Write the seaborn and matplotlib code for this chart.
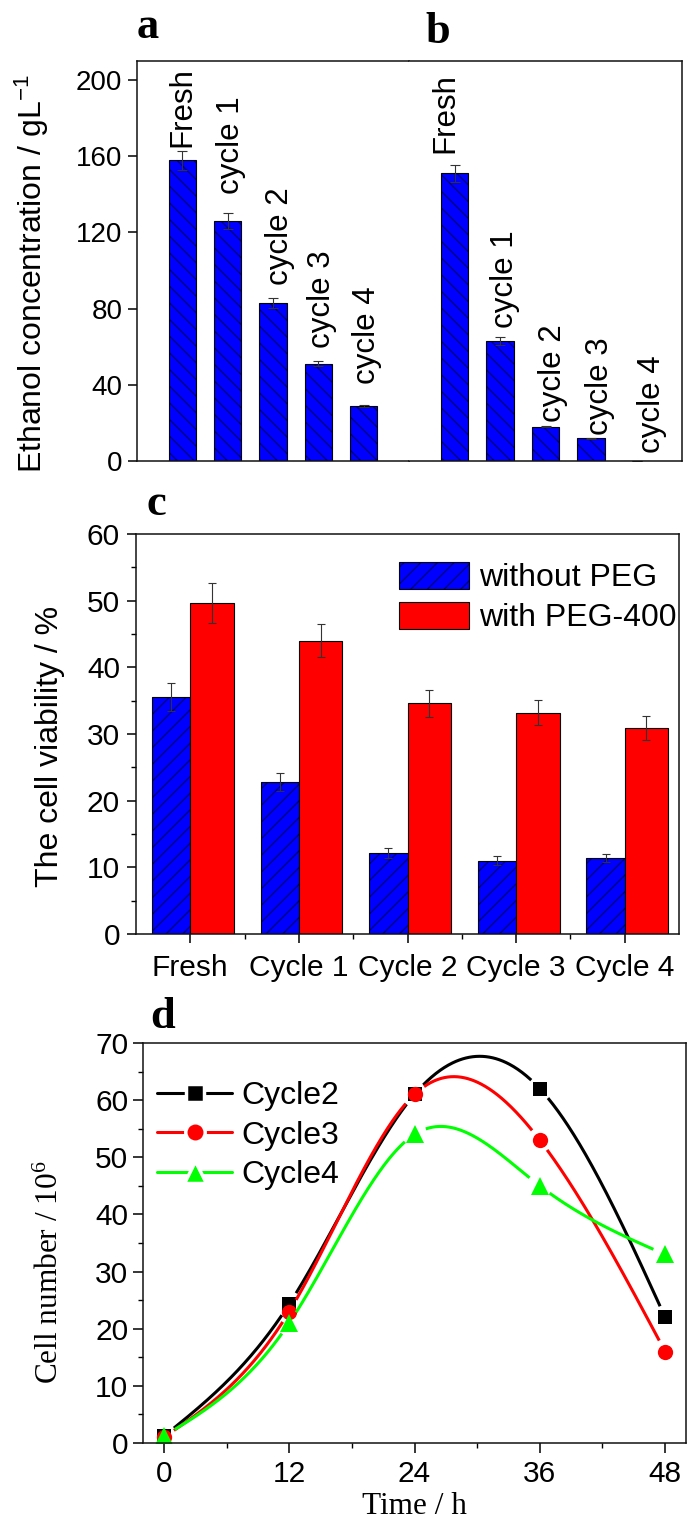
import numpy as np
import pandas as pd
import matplotlib
matplotlib.use("Agg")
import matplotlib.pyplot as plt
import matplotlib.colors as mcolors
from matplotlib.lines import Line2D
from matplotlib.patches import Patch
import seaborn as sns

# ---------------- data ----------------
cycles_ab = ["Fresh", "cycle 1", "cycle 2", "cycle 3", "cycle 4"]
ethanol_a = [158, 126, 83, 51, 29]
ethanol_a_err = [5.0, 4.0, 2.5, 1.3, 0.5]
ethanol_b = [151, 63, 18, 12, 0]
ethanol_b_err = [4.5, 2.0, 0.4, 0.3, 0.0]

cycles_c = ["Fresh", "Cycle 1", "Cycle 2", "Cycle 3", "Cycle 4"]
viab_without = [35.5, 22.8, 12.2, 11.0, 11.4]
viab_without_err = [2.1, 1.3, 0.75, 0.65, 0.65]
viab_with = [49.7, 44.0, 34.6, 33.2, 30.9]
viab_with_err = [3.0, 2.5, 2.0, 1.9, 1.8]

time_h = [0, 12, 24, 36, 48]
cell_cycle2 = [1.2, 24.3, 61, 62, 22]
cell_cycle3 = [1.0, 23, 61, 53, 16]
cell_cycle4 = [1.2, 21, 54, 45, 33]

# ---------------- style ----------------
sns.set_style("ticks")
SANS = ["Liberation Sans", "DejaVu Sans"]
SERIF = ["Liberation Serif", "DejaVu Serif"]
plt.rcParams["font.family"] = SANS
plt.rcParams["mathtext.default"] = "regular"
plt.rcParams["hatch.linewidth"] = 1.0
plt.rcParams["axes.linewidth"] = 1.1
plt.rcParams["axes.edgecolor"] = "#111111"
for key in ["text.color", "axes.labelcolor", "xtick.color", "ytick.color",
            "xtick.labelcolor", "ytick.labelcolor"]:
    plt.rcParams[key] = "black"

BLUE = "#0000FF"
RED = "#FF0000"
GREEN = "#00FF00"
HATCH = "#000080"

W, H = 698, 1521
fig = plt.figure(figsize=(W / 100, H / 100), dpi=100)


def box(x0, y0, x1, y1):
    return [x0 / W, 1 - y1 / H, (x1 - x0) / W, (y1 - y0) / H]


def set_hatch_color(p, col):
    if hasattr(p, "set_hatchcolor"):
        p.set_hatchcolor(col)
    else:
        p._hatch_color = mcolors.to_rgba(col)


ax_a = fig.add_axes(box(137, 61, 409, 461))
ax_b = fig.add_axes(box(409, 61, 682, 461))
ax_c = fig.add_axes(box(136, 534, 679, 934))
ax_d = fig.add_axes(box(143, 1043, 686, 1443))

# label layout (offsets for the rotated bar labels)
lab_dx_a = [0.0, 0.07, 0.15, 0.09, 0.07]
lab_pad_a = [2, 10, 7, 7, 11]
lab_dx_b = [-0.2, 0.12, 0.16, 0.2, 0.34]
lab_pad_b = [6, 5, 2, 1.6, 4]


def bar_panel(ax, vals, errs, dxs, pads):
    df = pd.DataFrame({"cycle": cycles_ab, "value": vals})
    sns.barplot(data=df, x="cycle", y="value", order=cycles_ab, color=BLUE,
                saturation=1, width=0.6, edgecolor="black", linewidth=0.8,
                errorbar=None, ax=ax)
    for p in ax.patches:
        p.set_hatch("\\\\")
        set_hatch_color(p, HATCH)
    xs = np.arange(len(vals))
    ax.errorbar(xs, vals, yerr=errs, fmt="none", ecolor="#333333",
                elinewidth=0.8, capsize=3.5, capthick=0.8)
    for i, (name, v, e) in enumerate(zip(cycles_ab, vals, errs)):
        ax.text(i + dxs[i], v + e + pads[i], name, rotation=90, ha="center",
                va="bottom", fontsize=22.5)
    ax.set_xlim(-1, 5)
    ax.set_ylim(0, 210)
    ax.set_xlabel("")
    ax.set_ylabel("")
    ax.tick_params(axis="x", bottom=False, labelbottom=False)


bar_panel(ax_a, ethanol_a, ethanol_a_err, lab_dx_a, lab_pad_a)
bar_panel(ax_b, ethanol_b, ethanol_b_err, lab_dx_b, lab_pad_b)

ax_a.set_yticks([0, 40, 80, 120, 160, 200])
ax_a.tick_params(axis="y", direction="out", length=6.5, width=1.1, pad=4,
                 labelsize=20)
ax_a.spines["right"].set_color("#666666")
ax_a.spines["right"].set_linewidth(0.6)
ax_a.set_ylabel("Ethanol concentration / gL$^{-1}$", fontsize=23, va="center")
ax_a.yaxis.set_label_coords(-0.388, 0.469)

ax_b.spines["left"].set_visible(False)
ax_b.tick_params(axis="y", left=False, labelleft=False)

# ---------------- panel c ----------------
xc = np.arange(len(cycles_c))
w_blue, w_red = 0.353, 0.40
bars_b = ax_c.bar(xc - w_blue, viab_without, width=w_blue, align="edge",
                  color=BLUE, edgecolor="black", linewidth=0.8, hatch="//")
for p in bars_b:
    set_hatch_color(p, HATCH)
ax_c.bar(xc, viab_with, width=w_red, align="edge", color=RED,
         edgecolor="black", linewidth=0.8)
ax_c.errorbar(xc - w_blue / 2, viab_without, yerr=viab_without_err, fmt="none",
              ecolor="#333333", elinewidth=0.8, capsize=3, capthick=0.8)
ax_c.errorbar(xc + w_red / 2, viab_with, yerr=viab_with_err, fmt="none",
              ecolor="#333333", elinewidth=0.8, capsize=3, capthick=0.8)
ax_c.set_xlim(-0.5, 4.5)
ax_c.set_ylim(0, 60)
ax_c.set_xticks(xc)
ax_c.set_xticklabels(cycles_c)
ax_c.set_xticks([0.5, 1.5, 2.5, 3.5], minor=True)
ax_c.set_yticks(np.arange(0, 61, 10))
ax_c.set_yticks(np.arange(5, 60, 10), minor=True)
ax_c.tick_params(which="major", direction="out", length=6.5, width=1.1,
                 labelsize=21.5)
ax_c.tick_params(axis="x", which="major", pad=8)
ax_c.tick_params(axis="y", which="major", pad=5)
ax_c.tick_params(which="minor", direction="out", length=3.6, width=1.0)
ax_c.set_ylabel("The cell viability / %", fontsize=23, va="center")
ax_c.yaxis.set_label_coords(-0.158, 0.47)

hp = Patch(facecolor=BLUE, edgecolor="black", linewidth=0.8, hatch="//")
set_hatch_color(hp, HATCH)
rp = Patch(facecolor=RED, edgecolor="black", linewidth=0.8)
ax_c.legend([hp, rp], ["without PEG", "with PEG-400"], loc="upper left",
            bbox_to_anchor=(0.484, 0.93), frameon=False, fontsize=23,
            handlelength=2.2, handleheight=0.9, handletextpad=0.3,
            labelspacing=0.28, borderpad=0, borderaxespad=0)


# ---------------- panel d ----------------
def natural_spline(x, y, xs):
    x = np.asarray(x, float)
    y = np.asarray(y, float)
    n = len(x)
    h = np.diff(x)
    A = np.zeros((n, n))
    r = np.zeros(n)
    A[0, 0] = A[-1, -1] = 1
    for i in range(1, n - 1):
        A[i, i - 1] = h[i - 1]
        A[i, i] = 2 * (h[i - 1] + h[i])
        A[i, i + 1] = h[i]
        r[i] = 6 * ((y[i + 1] - y[i]) / h[i] - (y[i] - y[i - 1]) / h[i - 1])
    M = np.linalg.solve(A, r)
    idx = np.clip(np.searchsorted(x, xs) - 1, 0, n - 2)
    x0, x1 = x[idx], x[idx + 1]
    hh = x1 - x0
    t0, t1 = x1 - xs, xs - x0
    return (M[idx] * t0 ** 3 / (6 * hh) + M[idx + 1] * t1 ** 3 / (6 * hh)
            + (y[idx] / hh - M[idx] * hh / 6) * t0
            + (y[idx + 1] / hh - M[idx + 1] * hh / 6) * t1)


ax_d.set_xlim(-2, 50)
ax_d.set_ylim(0, 70)
series_d = [
    ("Cycle2", cell_cycle2, "black", "s", 10),
    ("Cycle3", cell_cycle3, RED, "o", 11),
    ("Cycle4", cell_cycle4, GREEN, "^", 13),
]
xs_fine = np.linspace(min(time_h), max(time_h), 600)
gap_px = 12
for name, vals, col, mk, ms in series_d:
    ys = natural_spline(time_h, vals, xs_fine)
    disp = ax_d.transData.transform(np.column_stack([xs_fine, ys]))
    mdisp = ax_d.transData.transform(np.column_stack([time_h, vals]))
    dist = np.min(np.hypot(disp[:, None, 0] - mdisp[None, :, 0],
                           disp[:, None, 1] - mdisp[None, :, 1]), axis=1)
    ys_gap = np.where(dist < gap_px, np.nan, ys)
    ax_d.plot(xs_fine, ys_gap, color=col, lw=2.2, solid_capstyle="butt")
    ax_d.plot(time_h, vals, ls="none", marker=mk, ms=ms, color=col,
              markeredgewidth=0)

ax_d.set_xticks(time_h)
ax_d.set_xticks([6, 18, 30, 42], minor=True)
ax_d.set_yticks(np.arange(0, 71, 10))
ax_d.set_yticks(np.arange(5, 70, 10), minor=True)
ax_d.tick_params(which="major", direction="out", length=7, width=1.1,
                 labelsize=21.5)
ax_d.tick_params(axis="x", which="major", pad=5)
ax_d.tick_params(axis="y", which="major", pad=3.6)
ax_d.tick_params(which="minor", direction="out", length=3.6, width=1.0)
ax_d.set_xlabel("Time / h", fontsize=22.5, family=SERIF, va="top")
ax_d.xaxis.set_label_coords(0.5, -0.122)
ax_d.set_ylabel("Cell number / 10$^{6}$", fontsize=22.5, family=SERIF, va="center")
ax_d.yaxis.set_label_coords(-0.170, 0.4275)

handles_d = [Line2D([0], [0], color=col, lw=2.2, marker=mk, ms=ms + 3,
                    markerfacecolor=col, markeredgecolor="white",
                    markeredgewidth=2.5)
             for name, vals, col, mk, ms in series_d]
ax_d.legend(handles_d, [s[0] for s in series_d], loc="upper left",
            bbox_to_anchor=(0.026, 0.905), frameon=False, fontsize=23,
            handlelength=2.35, handletextpad=0.3, labelspacing=0.3,
            borderpad=0, borderaxespad=0)

# ---------------- panel letters ----------------
for letter, px, py in [("a", 137, 38), ("b", 425, 43), ("c", 147, 515),
                       ("d", 150, 1028)]:
    fig.text(px / W, 1 - py / H, letter, fontsize=32, fontweight="bold",
             family=SERIF, ha="left", va="baseline")

fig.savefig("out.png", dpi=100)
